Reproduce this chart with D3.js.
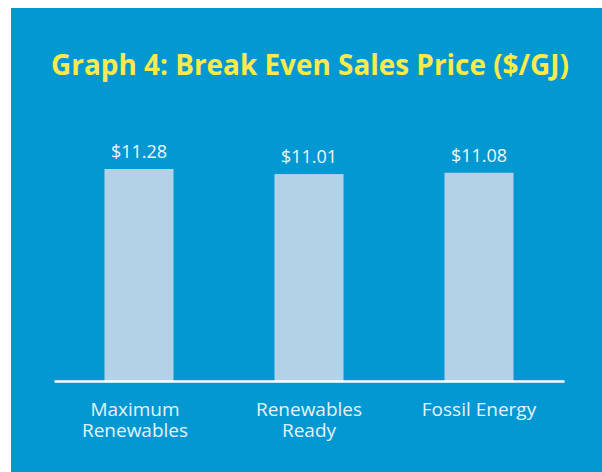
<!DOCTYPE html>
<html>
<head>
<meta charset="utf-8">
<script src="https://cdn.jsdelivr.net/npm/d3@7"></script>
<style>
  body { margin: 0; background: #ffffff; }
  svg { display: block; }
</style>
</head>
<body>
<script>
// chart data
var categories = [["Maximum", "Renewables"], ["Renewables", "Ready"], ["Fossil Energy"]];
var prices = [11.28, 11.01, 11.08];
var priceLabels = ["$11.28", "$11.01", "$11.08"];

var width = 602,
    height = 472;

var svg = d3.select("body")
    .append("svg")
    .attr("width", width)
    .attr("height", height);

//blue panel
svg.append("rect")
    .attr("x", 11)
    .attr("y", 8)
    .attr("width", width - 11)
    .attr("height", height - 8)
    .attr("fill", "#0398d1");

//title
svg.append("text")
    .attr("x", 51)
    .attr("y", 75)
    .attr("fill", "#fcea4b")
    .attr("textLength", 518)
    .attr("lengthAdjust", "spacingAndGlyphs")
    .style("font-family", "'Open Sans', sans-serif")
    .style("font-weight", "bold")
    .style("font-size", "28px")
    .text("Graph 4: Break Even Sales Price ($/GJ)");

//scales
var x = d3.scaleBand()
    .domain(d3.range(prices.length))
    .range([54, 564])
    .paddingInner(0.594)
    .paddingOuter(0.297);

var y = d3.scaleLinear()
    .domain([0, 11.28])
    .range([381, 169]);

//bars
svg.selectAll(".bar")
    .data(prices)
    .enter()
    .append("rect")
    .attr("class", "bar")
    .attr("x", function(d, i){ return x(i); })
    .attr("y", function(d){ return y(d); })
    .attr("width", x.bandwidth())
    .attr("height", function(d){ return y(0) - y(d); })
    .attr("fill", "#b3d2e7");

//value labels
svg.selectAll(".val")
    .data(priceLabels)
    .enter()
    .append("text")
    .attr("class", "val")
    .attr("x", function(d, i){ return x(i) + x.bandwidth() / 2; })
    .attr("y", function(d, i){ return y(prices[i]) - 11; })
    .attr("text-anchor", "middle")
    .attr("fill", "#eef7fb")
    .style("font-family", "'Open Sans', sans-serif")
    .style("font-size", "18px")
    .text(function(d){ return d; });

//baseline axis
var xAxis = svg.append("g")
    .attr("transform", "translate(0," + y(0) + ")")
    .call(d3.axisBottom(x).tickSize(0).tickFormat(""));
xAxis.select(".domain")
    .attr("stroke", "#ffffff")
    .attr("stroke-width", 2.5);

//category labels
var cats = svg.selectAll(".cat")
    .data(categories)
    .enter()
    .append("text")
    .attr("class", "cat")
    .attr("x", function(d, i){ return x(i) + x.bandwidth() / 2 - (i === 0 ? 4 : 0); })
    .attr("y", 416)
    .attr("text-anchor", "middle")
    .attr("fill", "#e6f3fa")
    .style("font-family", "'Open Sans', sans-serif")
    .style("font-size", "19px");

cats.selectAll("tspan")
    .data(function(d){ return d; })
    .enter()
    .append("tspan")
    .attr("x", function(){ return this.parentNode.getAttribute("x"); })
    .attr("dy", function(d, i){ return i === 0 ? 0 : 21; })
    .text(function(d){ return d; });
</script>
</body>
</html>
